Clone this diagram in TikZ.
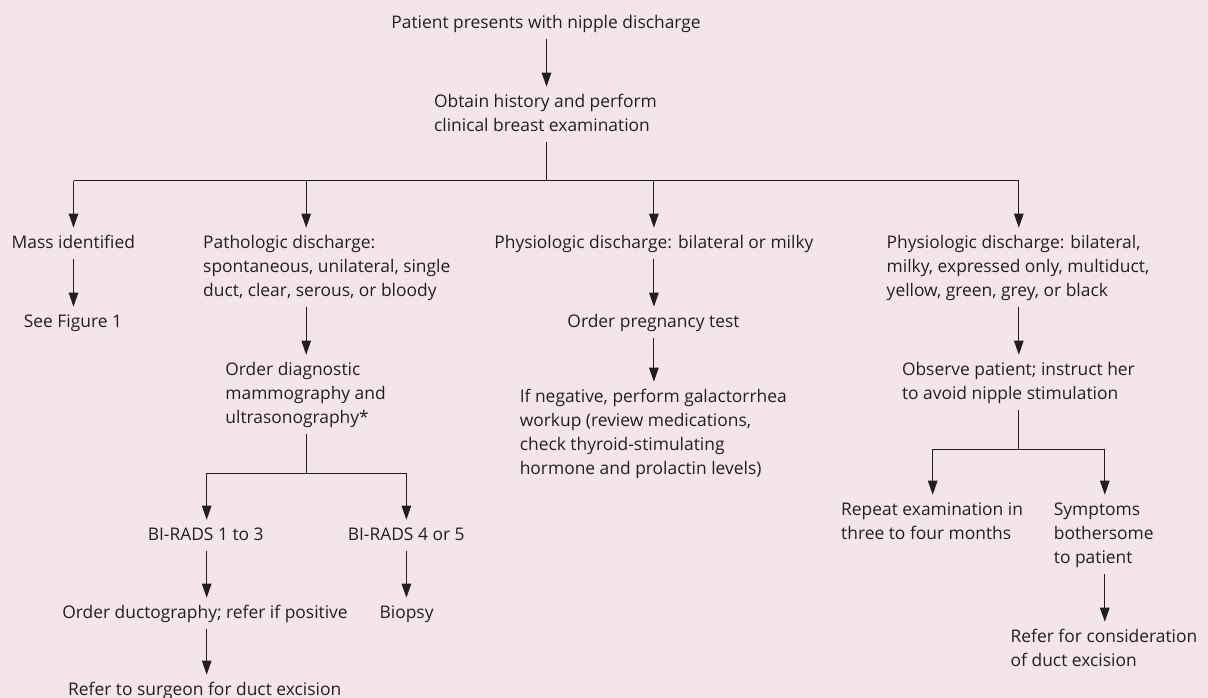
\documentclass[tikz,border=0pt]{standalone}
\usepackage{fontspec}
\setmainfont{Open Sans}
\usetikzlibrary{arrows.meta}
\definecolor{bgpink}{RGB}{244,229,236}
\definecolor{ink}{RGB}{35,31,32}
\tikzset{
  txt/.style={anchor=north, align=left, inner xsep=0pt, inner ysep=3.5pt, text=ink,
    font=\fontsize{17.4}{24}\selectfont},
  arr/.style={draw=ink, line width=1pt, -{Triangle[length=14pt,width=9.5pt]}},
  ln/.style={draw=ink, line width=1pt}
}
\newcommand{\sL}{\strut}
\begin{document}
\begin{tikzpicture}[x=1pt,y=-1pt]
\fill[bgpink] (0,0) rectangle (1208,698);
\useasboundingbox (0,0) rectangle (1208,698);

\node[txt] (top) at (546,7.7) {\sL Patient presents with nipple discharge};
\node[txt] (hist) at (545.5,86.7) {\sL Obtain history and perform\\\sL clinical breast examination};

\node[txt] (mass) at (73.3,227.7) {\sL Mass identified};
\node[txt] (see) at (73,306.7) {\sL See Figure 1};

\node[txt] (patho) at (326.8,227.7) {\sL Pathologic discharge:\\\sL spontaneous, unilateral, single\\\sL duct, clear, serous, or bloody};
\node[txt] (diag) at (305.6,354.7) {\sL Order diagnostic\\\sL mammography and\\\sL ultrasonography*};
\node[txt] (bia) at (205.7,519.7) {\sL BI-RADS 1 to 3};
\node[txt] (bib) at (406.2,519.7) {\sL BI-RADS 4 or 5};
\node[txt] (duct) at (205,597.7) {\sL Order ductography; refer if positive};
\node[txt] (biopsy) at (406.6,597.7) {\sL Biopsy};
\node[txt] (surg) at (204.7,674.7) {\sL Refer to surgeon for duct excision};

\node[txt] (phys) at (653.9,227.7) {\sL Physiologic discharge: bilateral or milky};
\node[txt] (preg) at (653.5,306.7) {\sL Order pregnancy test};
\node[txt] (neg) at (653.3,381.7) {\sL If negative, perform galactorrhea\\\sL workup (review medications,\\\sL check thyroid-stimulating\\\sL hormone and prolactin levels)};

\node[txt] (physb) at (1018,227.7) {\sL Physiologic discharge: bilateral,\\\sL milky, expressed only, multiduct,\\\sL yellow, green, grey, or black};
\node[txt] (obs) at (1018.4,354.7) {\sL Observe patient; instruct her\\\sL to avoid nipple stimulation};
\node[txt] (rep) at (932.1,494.7) {\sL Repeat examination in\\\sL three to four months};
\node[txt] (sym) at (1103.7,494.7) {\sL Symptoms\\\sL bothersome\\\sL to patient};
\node[txt] (refer) at (1104,621.7) {\sL Refer for consideration\\\sL of duct excision};

% column coordinates
\coordinate (cTop) at (546.5,0);
\coordinate (cMass) at (73.5,0);
\coordinate (cPath) at (306.2,0);
\coordinate (cPhys) at (653.9,0);
\coordinate (cPhysb) at (1018.8,0);
\coordinate (cBa) at (206.7,0);
\coordinate (cBb) at (406.4,0);
\coordinate (cRep) at (932.7,0);
\coordinate (cSym) at (1104.8,0);
\coordinate (j1) at (546.5,181);
\coordinate (j2) at (306.2,473);
\coordinate (j3) at (1018.8,449);

\draw[arr] (top.south -| cTop) -- (hist.north -| cTop);
\draw[ln] (hist.south -| cTop) -- (j1);
\draw[ln] (j1 -| cMass) -- (j1 -| cPhysb);
\draw[arr] (j1 -| cMass) -- (mass.north -| cMass);
\draw[arr] (j1 -| cPath) -- (patho.north -| cPath);
\draw[arr] (j1 -| cPhys) -- (phys.north -| cPhys);
\draw[arr] (j1 -| cPhysb) -- (physb.north -| cPhysb);

\draw[arr] (mass.south -| cMass) -- (see.north -| cMass);

\draw[arr] (patho.south -| cPath) -- (diag.north -| cPath);
\draw[ln] (diag.south -| cPath) -- (j2);
\draw[ln] (j2 -| cBa) -- (j2 -| cBb);
\draw[arr] (j2 -| cBa) -- (bia.north -| cBa);
\draw[arr] (j2 -| cBb) -- (bib.north -| cBb);
\draw[arr] (bia.south -| cBa) -- (duct.north -| cBa);
\draw[arr] (bib.south -| cBb) -- (biopsy.north -| cBb);
\draw[arr] (duct.south -| cBa) -- (surg.north -| cBa);

\draw[arr] (phys.south -| cPhys) -- (preg.north -| cPhys);
\draw[arr] (preg.south -| cPhys) -- (neg.north -| cPhys);

\draw[arr] (physb.south -| cPhysb) -- (obs.north -| cPhysb);
\draw[ln] (obs.south -| cPhysb) -- (j3);
\draw[ln] (j3 -| cRep) -- (j3 -| cSym);
\draw[arr] (j3 -| cRep) -- (rep.north -| cRep);
\draw[arr] (j3 -| cSym) -- (sym.north -| cSym);
\draw[arr] (sym.south -| cSym) -- (refer.north -| cSym);
\end{tikzpicture}
\end{document}
